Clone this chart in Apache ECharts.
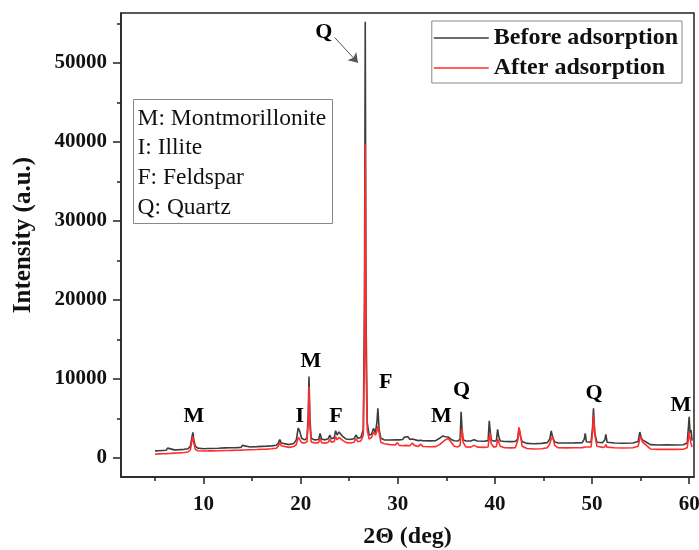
<!DOCTYPE html>
<html>
<head>
<meta charset="utf-8">
<script src="https://cdn.jsdelivr.net/npm/echarts@6/dist/echarts.min.js"></script>
<style>
  html, body { margin: 0; padding: 0; background: #fff; }
  #chart { width: 699px; height: 550px; }
</style>
</head>
<body>
<div id="chart"></div>
<script>
// XRD scan: diffraction angle 2θ (deg) and intensity (a.u.) before / after adsorption
const twoTheta = [
  5.0, 5.4, 5.8, 6.15, 6.3, 6.45, 7.0, 7.5, 8.0, 8.4,
  8.65, 8.8, 8.9, 9.0, 9.15, 9.4, 10.0, 10.45, 10.6, 10.75,
  11.5, 12.2, 12.8, 13.4, 13.85, 14.0, 14.15, 14.8, 15.5, 16.1,
  16.3, 16.5, 17.0, 17.5, 17.7, 17.85, 18.0, 18.2, 18.8, 19.3,
  19.55, 19.75, 19.9, 20.1, 20.4, 20.65, 20.78, 20.86, 20.95, 21.08,
  21.4, 21.85, 22.0, 22.15, 22.5, 22.85, 23.0, 23.15, 23.45, 23.6,
  23.75, 23.95, 24.15, 24.35, 24.7, 25.1, 25.5, 25.7, 25.9, 26.2,
  26.45, 26.57, 26.65, 26.73, 26.85, 27.05, 27.3, 27.5, 27.7, 27.85,
  27.95, 28.08, 28.25, 28.6, 29.2, 29.75, 29.95, 30.15, 30.5, 30.7,
  30.85, 31.05, 31.25, 31.5, 31.7, 32.1, 32.35, 32.6, 33.3, 33.9,
  34.3, 34.6, 34.9, 35.2, 35.5, 35.8, 36.2, 36.42, 36.52, 36.6,
  36.72, 37.0, 37.5, 37.85, 38.2, 38.9, 39.3, 39.42, 39.5, 39.62,
  39.9, 40.15, 40.28, 40.38, 40.55, 41.0, 41.6, 42.1, 42.35, 42.48,
  42.62, 42.8, 43.3, 44.0, 44.8, 45.4, 45.65, 45.8, 45.95, 46.15,
  46.5, 47.3, 48.2, 49.0, 49.2, 49.3, 49.42, 49.9, 50.05, 50.15,
  50.28, 50.5, 51.1, 51.32, 51.42, 51.55, 52.3, 53.2, 54.2, 54.75,
  54.92, 55.05, 55.2, 55.4, 55.6, 56.0, 56.8, 57.7, 58.6, 59.4,
  59.8, 59.92, 60.0, 60.1, 60.2, 60.3
];
const beforeAdsorption = [
  900, 930, 960, 980, 1250, 1000, 1030, 1060, 1100, 1180,
  1500, 2600, 3250, 2300, 1500, 1250, 1180, 1200, 1420, 1210,
  1240, 1280, 1300, 1320, 1340, 1600, 1360, 1400, 1440, 1480,
  1520, 1500, 1540, 1620, 1900, 2350, 1900, 1650, 1700, 1850,
  2300, 3800, 3400, 2500, 2300, 2500, 5500, 10300, 5000, 2500,
  2300, 2350, 3100, 2400, 2300, 2450, 2900, 2450, 2550, 3450,
  2900, 3300, 3100, 2700, 2400, 2350, 2450, 2900, 2500, 2600,
  3600, 20000, 55200, 18000, 4500, 2900, 3000, 3750, 3200, 4500,
  6300, 3600, 2500, 2300, 2280, 2300, 2550, 2300, 2350, 2650,
  2450, 2700, 2350, 2400, 2250, 2200, 2250, 2180, 2170, 2200,
  2500, 2780, 2700, 2650, 2350, 2180, 2150, 2400, 5860, 4000,
  2300, 2150, 2160, 2300, 2150, 2120, 2200, 4720, 3600, 2300,
  2130, 2200, 3630, 2800, 2150, 2100, 2080, 2100, 2400, 3800,
  2800, 2100, 1850, 1800, 1850, 1950, 2400, 3420, 2600, 2050,
  1900, 1900, 1920, 1950, 2400, 3120, 2050, 2000, 3800, 6290,
  3200, 2000, 1950, 2300, 3000, 2000, 1900, 1870, 1900, 2100,
  3290, 2600, 2300, 2490, 2000, 1700, 1650, 1660, 1650, 1680,
  1900, 3800, 5230, 3200, 3540, 2200
];
const afterAdsorption = [
  480, 520, 540, 560, 700, 580, 620, 650, 690, 760,
  1050, 2100, 2750, 1900, 1100, 920, 890, 900, 1000, 910,
  930, 960, 970, 990, 1000, 1150, 1010, 1050, 1080, 1110,
  1250, 1130, 1170, 1240, 1500, 1950, 1550, 1300, 1350, 1450,
  1700, 2650, 2500, 1950, 1900, 2050, 4500, 9000, 4000, 2050,
  1900, 1950, 2500, 1950, 1880, 2000, 2350, 2000, 2100, 2700,
  2300, 2600, 2500, 2200, 1950, 1900, 2000, 2450, 2050, 2150,
  2900, 14000, 39700, 12000, 3600, 2400, 2600, 3300, 2900, 3400,
  4050, 3200, 2000, 1800, 1700, 1650, 1950, 1600, 1550, 1700,
  1600, 1650, 1550, 1900, 1600, 1450, 1750, 1450, 1420, 1440,
  1700, 2000, 2300, 2480, 2000, 1500, 1400, 1600, 3000, 3760,
  2000, 1400, 1380, 1600, 1380, 1350, 1400, 2600, 3120, 1800,
  1380, 1450, 2400, 2490, 1500, 1300, 1280, 1300, 2200, 3880,
  3000, 1500, 1200, 1150, 1180, 1300, 1800, 2400, 2700, 1600,
  1300, 1280, 1300, 1320, 1350, 1400, 1350, 1400, 3200, 5440,
  3000, 1500, 1350, 1400, 1700, 1380, 1300, 1270, 1300, 1500,
  2400, 2700, 2000, 2200, 1600, 1150, 1100, 1100, 1100, 1120,
  1300, 2400, 3300, 2500, 1800, 1400
];

// Phase tags: [2θ, intensity, letter]
const phaseTags = [
  [9.0, 5230, 'M'], [19.9, 5320, 'I'], [21.05, 12200, 'M'], [23.64, 5320, 'F'],
  [28.77, 9540, 'F'], [34.5, 5230, 'M'], [36.56, 8520, 'Q'], [50.2, 8230, 'Q'],
  [59.15, 6620, 'M'], [22.37, 53900, 'Q']
];
// Arrow from the main quartz tag to its peak: [[2θ, I], [2θ, I]]
const quartzArrow = [[23.5, 53200], [25.9, 50000]];

const seriesNames = ['Before adsorption', 'After adsorption'];
const phaseKey = ['M: Montmorillonite', 'I: Illite', 'F: Feldspar', 'Q: Quartz'];

const xLabelTicks = [10, 20, 30, 40, 50, 60];
const xMinorTicks = [5, 15, 25, 35, 45, 55];
const yLabelTicks = [0, 10000, 20000, 30000, 40000, 50000];
const yMinorTicks = [5000, 15000, 25000, 35000, 45000, 55000];

const xRange = [1.5, 60.5];
const yRange = [-2400, 56300];

const serif = "'Times New Roman', 'Liberation Serif', serif";
const ink = '#111';
const frame = '#222';

const chart = echarts.init(document.getElementById('chart'));

const pairs = (ys) => twoTheta.map((x, i) => [x, ys[i]]);
const gridBox = { left: 121, top: 13, right: 5, bottom: 73, outerBoundsMode: 'none', containLabel: false };
const tickStyle = { color: frame, width: 1.5 };

chart.setOption({
  animation: false,
  backgroundColor: '#fff',
  grid: [
    Object.assign({ show: true, borderColor: frame, borderWidth: 1.5 }, gridBox),
    // overlay grid carrying only the short minor ticks
    Object.assign({ show: false }, gridBox)
  ],
  legend: {
    data: seriesNames,
    orient: 'vertical',
    right: 17, top: 21,
    padding: [4, 4, 2, 2],
    itemGap: 4,
    icon: 'rect',
    itemWidth: 55,
    itemHeight: 1.6,
    borderColor: '#888',
    borderWidth: 1,
    textStyle: { fontFamily: serif, fontWeight: 'bold', fontSize: 24, color: ink, lineHeight: 26 }
  },
  xAxis: [{
    gridIndex: 0, type: 'value', min: xRange[0], max: xRange[1],
    splitLine: { show: false },
    axisLine: { onZero: false, lineStyle: { color: frame, width: 1.5 } },
    axisTick: { customValues: xLabelTicks, length: 7, lineStyle: tickStyle },
    axisLabel: { customValues: xLabelTicks, margin: 17, fontFamily: serif, fontWeight: 'bold', fontSize: 21, color: ink },
    name: '2Θ (deg)', nameLocation: 'middle', nameGap: 48,
    nameTextStyle: { fontFamily: serif, fontWeight: 'bold', fontSize: 24, color: ink }
  }, {
    gridIndex: 1, type: 'value', min: xRange[0], max: xRange[1], position: 'bottom',
    splitLine: { show: false },
    axisLine: { show: false, onZero: false },
    axisTick: { customValues: xMinorTicks, length: 4, lineStyle: tickStyle },
    axisLabel: { show: false }
  }],
  yAxis: [{
    gridIndex: 0, type: 'value', min: yRange[0], max: yRange[1],
    splitLine: { show: false },
    axisLine: { onZero: false, lineStyle: { color: frame, width: 1.5 } },
    axisTick: { customValues: yLabelTicks, length: 8, lineStyle: tickStyle },
    axisLabel: {
      customValues: yLabelTicks, margin: 14, formatter: (v) => String(v),
      fontFamily: serif, fontWeight: 'bold', fontSize: 21, color: ink
    },
    name: 'Intensity (a.u.)', nameLocation: 'middle', nameGap: 85,
    nameTextStyle: { fontFamily: serif, fontWeight: 'bold', fontSize: 25, color: ink, padding: [0, 0, 0, 20] }
  }, {
    gridIndex: 1, type: 'value', min: yRange[0], max: yRange[1], position: 'left',
    splitLine: { show: false },
    axisLine: { show: false, onZero: false },
    axisTick: { customValues: yMinorTicks, length: 4, lineStyle: tickStyle },
    axisLabel: { show: false }
  }],
  series: [{
    name: seriesNames[0], type: 'line', data: pairs(beforeAdsorption),
    xAxisIndex: 0, yAxisIndex: 0,
    symbol: 'none', color: '#3d3d3d',
    lineStyle: { color: '#3d3d3d', width: 1.6 },
    markLine: {
      silent: true, symbol: ['none', 'arrow'], symbolSize: 9,
      lineStyle: { color: '#555', width: 1, type: 'solid' },
      label: { show: false },
      data: [[{ coord: quartzArrow[0] }, { coord: quartzArrow[1] }]]
    }
  }, {
    name: seriesNames[1], type: 'line', data: pairs(afterAdsorption),
    xAxisIndex: 0, yAxisIndex: 0,
    symbol: 'none', color: '#ff2d2d',
    lineStyle: { color: '#ff2d2d', width: 1.6 }
  }, {
    name: 'phase tags', type: 'scatter', symbolSize: 0, silent: true,
    xAxisIndex: 0, yAxisIndex: 0,
    itemStyle: { opacity: 1 },
    data: phaseTags.map(t => ({ value: [t[0], t[1]], name: t[2] })),
    label: {
      show: true, position: 'inside', formatter: '{b}', opacity: 1,
      fontFamily: serif, fontWeight: 'bold', fontSize: 22, color: '#000'
    }
  }],
  graphic: [{
    type: 'group', left: 133, top: 99,
    children: [
      { type: 'rect', shape: { x: 0, y: 0, width: 199, height: 124 },
        style: { fill: '#fff', stroke: '#888', lineWidth: 1 } }
    ].concat(phaseKey.map((t, i) => ({
      type: 'text', x: 4, y: 19 + i * 29.7,
      style: { text: t, font: '23.5px ' + serif, fill: ink, verticalAlign: 'middle' }
    })))
  }]
});
</script>
</body>
</html>
